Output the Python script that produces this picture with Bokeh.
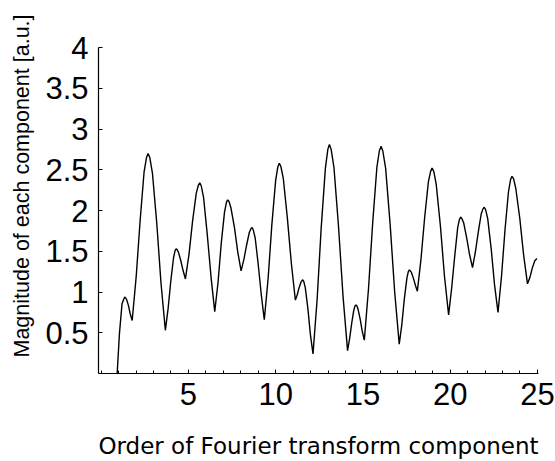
from bokeh.plotting import figure
from bokeh.models import FixedTicker, Range1d, Title
from bokeh.embed import file_html
from bokeh.resources import INLINE

# Curve (order, magnitude)
order = [0.92, 1.05, 1.20, 1.35,
         1.39, 1.46, 1.57, 1.67, 1.78,
         2.01, 2.24, 2.46, 2.60, 2.69,
         2.79, 2.94, 3.19, 3.43, 3.68,
         3.84, 3.99, 4.15, 4.24, 4.30,
         4.35, 4.43, 4.57, 4.70, 4.83,
         5.04, 5.24, 5.45, 5.57, 5.65,
         5.74, 5.87, 6.08, 6.30, 6.51,
         6.70, 6.88, 7.07, 7.18, 7.25,
         7.33, 7.44, 7.64, 7.83, 8.02,
         8.18, 8.34, 8.49, 8.59, 8.65,
         8.72, 8.83, 9.00, 9.18, 9.35,
         9.57, 9.78, 10.00, 10.12, 10.21,
         10.30, 10.44, 10.67, 10.90, 11.13,
         11.24, 11.34, 11.45, 11.51, 11.55,
         11.61, 11.70, 11.85, 11.99, 12.14,
         12.38, 12.61, 12.85, 12.99, 13.08,
         13.18, 13.34, 13.60, 13.86, 14.12,
         14.24, 14.36, 14.48, 14.55, 14.60,
         14.65, 14.72, 14.84, 14.96, 15.08,
         15.32, 15.56, 15.80, 15.94, 16.04,
         16.14, 16.30, 16.56, 16.82, 17.08,
         17.23, 17.37, 17.52, 17.60, 17.66,
         17.71, 17.78, 17.89, 18.01, 18.12,
         18.33, 18.54, 18.75, 18.88, 18.96,
         19.06, 19.20, 19.44, 19.67, 19.91,
         20.08, 20.26, 20.43, 20.53, 20.60,
         20.67, 20.77, 20.94, 21.11, 21.28,
         21.45, 21.62, 21.78, 21.88, 21.95,
         22.03, 22.15, 22.35, 22.54, 22.74,
         22.94, 23.14, 23.34, 23.46, 23.54,
         23.63, 23.76, 23.99, 24.21, 24.43,
         24.57, 24.70, 24.84, 24.97]
magnitude = [0.00, 0.49, 0.86, 0.94,
             0.93, 0.91, 0.83, 0.73, 0.65,
             1.19, 1.89, 2.47, 2.65, 2.70,
             2.65, 2.46, 1.84, 1.11, 0.53,
             0.80, 1.13, 1.42, 1.51, 1.53,
             1.52, 1.49, 1.38, 1.26, 1.16,
             1.47, 1.87, 2.21, 2.31, 2.34,
             2.30, 2.16, 1.71, 1.18, 0.76,
             1.12, 1.59, 1.98, 2.10, 2.13,
             2.11, 2.03, 1.79, 1.49, 1.26,
             1.40, 1.58, 1.73, 1.78, 1.79,
             1.76, 1.66, 1.34, 0.96, 0.66,
             1.17, 1.82, 2.37, 2.53, 2.58,
             2.54, 2.39, 1.91, 1.35, 0.90,
             0.97, 1.05, 1.12, 1.14, 1.15,
             1.13, 1.05, 0.79, 0.48, 0.24,
             0.92, 1.79, 2.52, 2.75, 2.81,
             2.75, 2.53, 1.81, 0.95, 0.28,
             0.43, 0.62, 0.78, 0.83, 0.84,
             0.83, 0.79, 0.67, 0.52, 0.41,
             1.04, 1.85, 2.53, 2.73, 2.79,
             2.73, 2.52, 1.83, 1.00, 0.36,
             0.60, 0.91, 1.17, 1.25, 1.27,
             1.26, 1.24, 1.17, 1.08, 1.01,
             1.41, 1.92, 2.35, 2.48, 2.52,
             2.48, 2.32, 1.81, 1.20, 0.72,
             1.04, 1.44, 1.79, 1.89, 1.92,
             1.90, 1.85, 1.67, 1.46, 1.30,
             1.50, 1.75, 1.96, 2.02, 2.04,
             2.01, 1.90, 1.53, 1.09, 0.75,
             1.19, 1.76, 2.23, 2.38, 2.42,
             2.39, 2.27, 1.90, 1.45, 1.10,
             1.18, 1.29, 1.38, 1.41]

x_ticks = [5, 10, 15, 20, 25]
x_minor_ticks = list(range(0, 26))
y_ticks = [0.5, 1, 1.5, 2, 2.5, 3, 3.5, 4]

x_label = "Order of Fourier transform component"
y_label = "Magnitude of each component [a.u.]"

W, H = 555, 461
p = figure(width=W, height=H, output_backend="svg", toolbar_location=None,
           x_range=Range1d(-0.15, 25.06), y_range=Range1d(0, 4),
           min_border_left=98, min_border_right=17,
           min_border_top=47, min_border_bottom=88)
p.outline_line_color = None
p.grid.visible = False
p.background_fill_color = "white"
p.border_fill_color = "white"

p.line(order, magnitude, line_color="black", line_width=1.4)

tick_font = "Liberation Sans"
for ax in (p.xaxis[0], p.yaxis[0]):
    ax.axis_line_color = "black"
    ax.axis_line_width = 1.2
    ax.major_tick_in = 4
    ax.major_tick_out = 0
    ax.minor_tick_in = 3
    ax.minor_tick_out = 0
    ax.major_label_text_font = tick_font
    ax.major_label_text_font_size = "31px"
    ax.major_label_text_color = "black"

p.xaxis[0].ticker = FixedTicker(ticks=x_ticks, minor_ticks=x_minor_ticks)
p.yaxis[0].ticker = FixedTicker(ticks=y_ticks, minor_ticks=[])
p.xaxis[0].major_label_standoff = 9
p.yaxis[0].major_label_standoff = 10

p.xaxis[0].axis_label = x_label
p.xaxis[0].axis_label_text_font = "DejaVu Sans"
p.xaxis[0].axis_label_text_font_style = "normal"
p.xaxis[0].axis_label_text_font_size = "23px"
p.xaxis[0].axis_label_text_color = "black"
p.xaxis[0].axis_label_standoff = 25

ytitle = Title(text=y_label, align="left", offset=16, vertical_align="middle",
               text_font="Liberation Sans", text_font_size="21.5px",
               text_font_style="normal", text_color="black", standoff=16)
p.add_layout(ytitle, "left")

open("out.html", "w").write(file_html(p, INLINE))
